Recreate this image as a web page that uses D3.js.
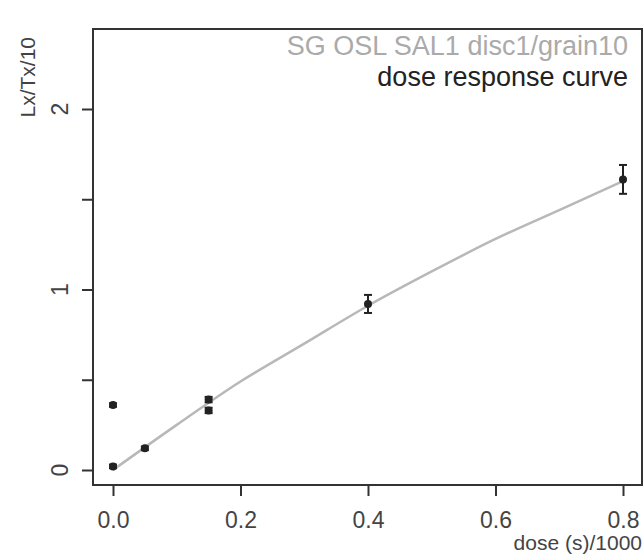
<!DOCTYPE html>
<html>
<head>
<meta charset="utf-8">
<script src="https://cdn.jsdelivr.net/npm/d3@7"></script>
<style>
  body { margin: 0; background: #fff; }
  svg { display: block; font-family: "Liberation Sans", Arial, sans-serif; }
</style>
</head>
<body>
<svg id="chart" width="644" height="554"></svg>
<script>
// measured points (dose in s/1000, Lx/Tx/10)
const doses = [0, 0, 0.05, 0.15, 0.15, 0.4, 0.8];
const lxtx  = [0.02, 0.36, 0.12, 0.39, 0.33, 0.92, 1.61];
const errs  = [0.01, 0.01, 0.01, 0.015, 0.015, 0.05, 0.08];

// fitted curve
const fitDose = [0, 0.1, 0.2, 0.3, 0.4, 0.5, 0.6, 0.7, 0.8];
const fitLx   = [0, 0.25, 0.49, 0.70, 0.91, 1.10, 1.28, 1.44, 1.60];

const xTicks = [0, 0.2, 0.4, 0.6, 0.8];
const yTicks = [0, 0.5, 1, 1.5, 2];
const yLabels = [0, 1, 2];

const titleLines = ["SG OSL SAL1 disc1/grain10", "dose response curve"];

var svg = d3.select("#chart");
const box = {left: 93, right: 642, top: 29, bottom: 485};

var x = d3.scaleLinear().domain([0, 0.8]).range([113, 623]);
var y = d3.scaleLinear().domain([0, 2]).range([470, 109]);

// frame
svg.append("rect")
  .attr("x", box.left).attr("y", box.top)
  .attr("width", box.right - box.left)
  .attr("height", box.bottom - box.top)
  .attr("fill", "none")
  .attr("stroke", "#333")
  .attr("stroke-width", 2);

// x axis
var xAxis = d3.axisBottom(x)
  .tickValues(xTicks)
  .tickFormat(d3.format(".1f"))
  .tickSize(11)
  .tickSizeOuter(0)
  .tickPadding(16);
var xAxisEl = svg.append("g")
  .attr("transform", `translate(0, ${box.bottom})`)
  .call(xAxis);
xAxisEl.select(".domain").remove();
xAxisEl.selectAll("line").attr("stroke", "#333").attr("stroke-width", 2);
xAxisEl.selectAll("text")
  .attr("font-size", 23)
  .attr("fill", "#444")
  .attr("font-family", "Liberation Sans, Arial, sans-serif");

// y axis ticks
var yAxis = d3.axisLeft(y)
  .tickValues(yTicks)
  .tickFormat("")
  .tickSize(11)
  .tickSizeOuter(0);
var yAxisEl = svg.append("g")
  .attr("transform", `translate(${box.left}, 0)`)
  .call(yAxis);
yAxisEl.select(".domain").remove();
yAxisEl.selectAll("line").attr("stroke", "#333").attr("stroke-width", 2);

// y labels, rotated like R
svg.selectAll(".ylab")
  .data(yLabels)
  .enter()
  .append("text")
  .attr("class", "ylab")
  .attr("transform", d => `translate(68, ${y(d)}) rotate(-90)`)
  .attr("text-anchor", "middle")
  .attr("font-size", 23)
  .attr("fill", "#444")
  .text(d => d);

// axis titles
svg.append("text")
  .attr("transform", `translate(35, 37) rotate(-90)`)
  .attr("text-anchor", "end")
  .attr("font-size", 21)
  .attr("fill", "#444")
  .text("Lx/Tx/10");

svg.append("text")
  .attr("x", box.right)
  .attr("y", 550)
  .attr("text-anchor", "end")
  .attr("font-size", 21)
  .attr("fill", "#444")
  .text("dose (s)/1000");

// fitted curve
var line = d3.line()
  .x((d, i) => x(fitDose[i]))
  .y(d => y(d))
  .curve(d3.curveMonotoneX);
svg.append("path")
  .datum(fitLx)
  .attr("d", line)
  .attr("fill", "none")
  .attr("stroke", "#b8b8b8")
  .attr("stroke-width", 2.5);

// error bars
const g = svg.append("g");
for (let i = 0; i < doses.length; i++) {
  let cx = x(doses[i]);
  let y1 = y(lxtx[i] + errs[i]);
  let y2 = y(lxtx[i] - errs[i]);
  g.append("line")
    .attr("x1", cx).attr("x2", cx)
    .attr("y1", y1).attr("y2", y2)
    .attr("stroke", "#222").attr("stroke-width", 2);
  [y1, y2].forEach(v => {
    g.append("line")
      .attr("x1", cx - 4).attr("x2", cx + 4)
      .attr("y1", v).attr("y2", v)
      .attr("stroke", "#222").attr("stroke-width", 2);
  });
}

// points
g.selectAll("circle")
  .data(doses)
  .enter()
  .append("circle")
  .attr("cx", d => x(d))
  .attr("cy", (d, i) => y(lxtx[i]))
  .attr("r", 4)
  .attr("fill", "#222");

// legend-like title
svg.selectAll(".title")
  .data(titleLines)
  .enter()
  .append("text")
  .attr("class", "title")
  .attr("x", 628)
  .attr("y", (d, i) => i === 0 ? 55 : 86)
  .attr("text-anchor", "end")
  .attr("font-size", 27)
  .attr("fill", (d, i) => i === 0 ? "#aaa" : "#222")
  .text(d => d);
</script>
</body>
</html>
